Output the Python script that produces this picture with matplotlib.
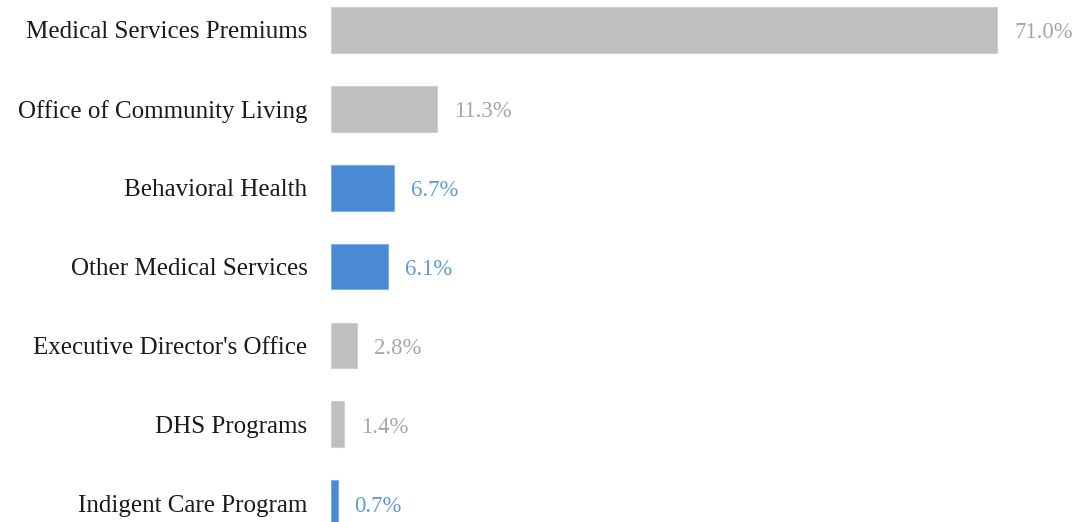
import matplotlib
matplotlib.use("Agg")
import matplotlib.pyplot as plt

categories = ["Medical Services Premiums", "Office of Community Living", "Behavioral Health",
              "Other Medical Services", "Executive Director's Office", "DHS Programs",
              "Indigent Care Program"]
values = [71.0, 11.3, 6.7, 6.1, 2.8, 1.4, 0.7]
highlight = [False, False, True, True, False, False, True]

GREY = "#BFBFBF"
BLUE = "#4A89D3"
GREY_TXT = "#A6A6A6"
BLUE_TXT = "#5B9BD5"

plt.rcParams['font.family'] = ['Liberation Serif', 'DejaVu Serif']

fig = plt.figure(figsize=(10.77, 5.22), dpi=100)
ax = fig.add_axes([331/1077, 0, 1 - 331/1077, 1])

ypos = list(range(len(categories)))
colors = [BLUE if h else GREY for h in highlight]
edges = ["#7FAEE3" if h else "#D0D0D0" for h in highlight]
ax.barh(ypos, values, height=0.58, color=colors, edgecolor=edges, linewidth=0.8)

for y, v, h in zip(ypos, values, highlight):
    ax.annotate(f"{v:.1f}%", (v, y), xytext=(17, -3), textcoords="offset pixels",
                ha="left", va="center", fontsize=16.4,
                color=BLUE_TXT if h else GREY_TXT)

ax.set_xlim(0, 79.5)
ax.set_ylim(6.24, -0.38)
ax.set_yticks(ypos)
ax.set_yticklabels(categories, fontsize=18, color="#1a1a1a")
ax.tick_params(axis="y", length=0, pad=17)
ax.set_xticks([])
for s in ax.spines.values():
    s.set_visible(False)

fig.savefig("out.png", dpi=100)
